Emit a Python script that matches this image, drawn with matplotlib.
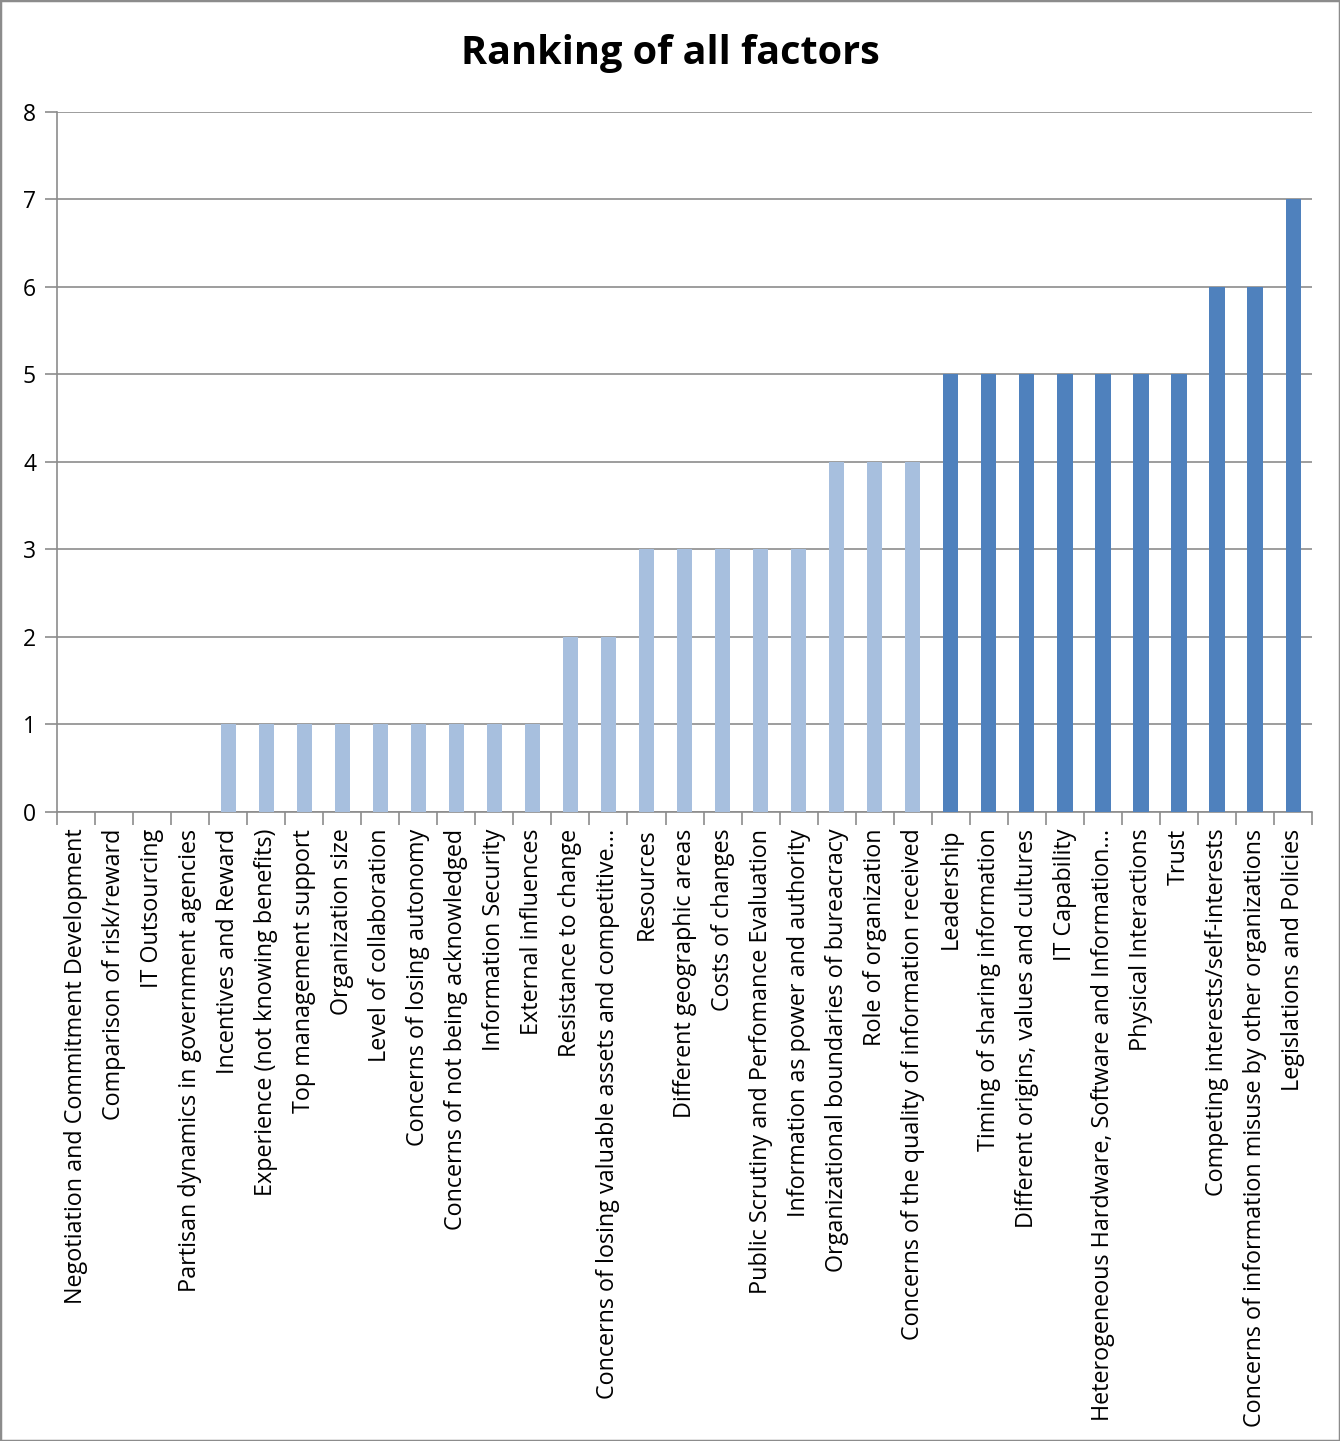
import numpy as np
import matplotlib.pyplot as plt

labels = [
    "Negotiation and Commitment Development",
    "Comparison of risk/reward",
    "IT Outsourcing",
    "Partisan dynamics in government agencies",
    "Incentives and Reward",
    "Experience (not knowing benefits)",
    "Top management support",
    "Organization size",
    "Level of collaboration",
    "Concerns of losing autonomy",
    "Concerns of not being acknowledged",
    "Information Security",
    "External influences",
    "Resistance to change",
    "Concerns of losing valuable assets and competitive...",
    "Resources",
    "Different geographic areas",
    "Costs of changes",
    "Public Scrutiny and Perfomance Evaluation",
    "Information as power and authority",
    "Organizational boundaries of bureacracy",
    "Role of organization",
    "Concerns of the quality of information received",
    "Leadership",
    "Timing of sharing information",
    "Different origins, values and cultures",
    "IT Capability",
    "Heterogeneous Hardware, Software and Information...",
    "Physical Interactions",
    "Trust",
    "Competing interests/self-interests",
    "Concerns of information misuse by other organizations",
    "Legislations and Policies",
]
values = [0, 0, 0, 0, 1, 1, 1, 1, 1, 1, 1, 1, 1, 2, 2, 3, 3, 3, 3, 3,
          4, 4, 4, 5, 5, 5, 5, 5, 5, 5, 6, 6, 7]
# bars from "Leadership" on are drawn in the darker blue
dark_from = 23

light = "#A7BFDE"
dark = "#4F81BD"
colors = [dark if i >= dark_from else light for i in range(len(values))]

plt.rcParams['font.family'] = ['Open Sans', 'DejaVu Sans']

fig = plt.figure(figsize=(13.4, 14.41), dpi=100)
ax = fig.add_axes([0.0425, 0.4365, 0.9367, 0.4858])

x = np.arange(len(values))
ax.bar(x, values, width=0.4, color=colors, zorder=3)

ax.set_xlim(-0.5, len(values) - 0.5)
ax.set_ylim(0, 8)
ax.set_yticks(range(0, 9))
ax.yaxis.grid(True, color="#8c8c8c", linewidth=1.2, zorder=0)
ax.tick_params(axis='y', length=9, width=1.2, color="#8c8c8c", labelsize=16.5, pad=6)

ax.set_xticks(x)
ax.set_xticklabels(labels, rotation=90, fontsize=16.8)
ax.set_xticks(np.arange(-0.5, len(values)), minor=True)
ax.tick_params(axis='x', which='major', length=0, pad=12)
ax.tick_params(axis='x', which='minor', length=9, width=1.2, color="#8c8c8c")

for side in ['top', 'right']:
    ax.spines[side].set_visible(False)
for side in ['left', 'bottom']:
    ax.spines[side].set_color("#8c8c8c")
    ax.spines[side].set_linewidth(1.2)

fig.text(0.5, 0.963, "Ranking of all factors", ha='center', va='center',
         fontsize=28.5, fontweight='bold')

border = plt.Rectangle((0, 0), 1, 1, transform=fig.transFigure, fill=False,
                       edgecolor="#8c8c8c", linewidth=2.5)
fig.patches.append(border)

fig.savefig("out.png", dpi=100)
